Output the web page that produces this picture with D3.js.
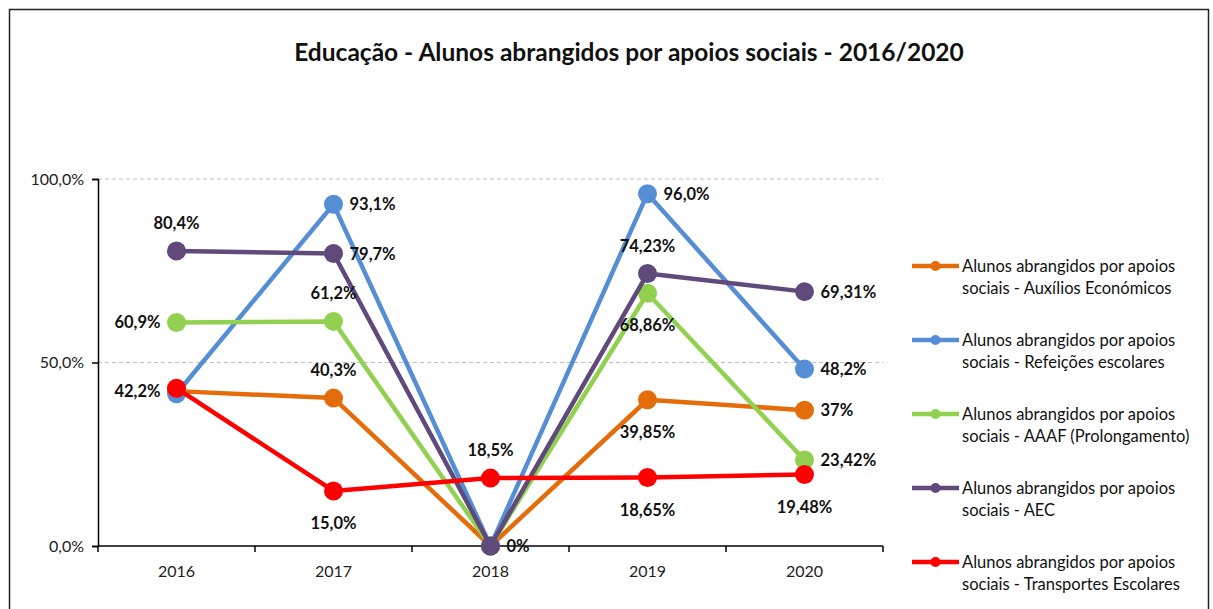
<!DOCTYPE html>
<html lang="pt">
<head>
    <meta charset="UTF-8">
    <script src="https://cdn.jsdelivr.net/npm/d3@7"></script>
    <title>Educação - Alunos abrangidos por apoios sociais</title>
    <style>
        html, body { margin: 0; padding: 0; background: #fff; }
        svg { display: block; font-family: Lato, "Open Sans", sans-serif; }
    </style>
</head>
<body>
<div id="chart"></div>
<script>
    // data
    const years = ['2016', '2017', '2018', '2019', '2020'];
    const seriesNames = [
        ['Alunos abrangidos por apoios', 'sociais - Auxílios Económicos'],
        ['Alunos abrangidos por apoios', 'sociais - Refeições escolares'],
        ['Alunos abrangidos por apoios', 'sociais - AAAF (Prolongamento)'],
        ['Alunos abrangidos por apoios', 'sociais - AEC'],
        ['Alunos abrangidos por apoios', 'sociais - Transportes Escolares']
    ];
    const colors = ['#e46c0a', '#558ed5', '#92d050', '#604a7b', '#ff0000'];
    const auxilios = [42.2, 40.3, 0, 39.85, 37];
    const refeicoes = [41.5, 93.1, 0, 96.0, 48.2];
    const aaaf = [60.9, 61.2, 0, 68.86, 23.42];
    const aec = [80.4, 79.7, 0, 74.23, 69.31];
    const transportes = [43.0, 15.0, 18.5, 18.65, 19.48];
    const values = [auxilios, refeicoes, aaaf, aec, transportes];
    // label texts and where they sit (l, r, t, b), null = no label
    const labelText = [
        ['42,2%', '40,3%', null, '39,85%', '37%'],
        [null, '93,1%', null, '96,0%', '48,2%'],
        ['60,9%', '61,2%', null, '68,86%', '23,42%'],
        ['80,4%', '79,7%', '0%', '74,23%', '69,31%'],
        [null, '15,0%', '18,5%', '18,65%', '19,48%']
    ];
    const labelPos = [
        ['l', 't', null, 'b', 'r'],
        [null, 'r', null, 'r', 'r'],
        ['l', 't', null, 'b', 'r'],
        ['t', 'r', 'r', 't', 'r'],
        [null, 'b', 't', 'b', 'b']
    ];
    const yTicks = [0, 50, 100];

    const width = 1213, height = 609;
    const plot = {left: 98, right: 883, top: 179, bottom: 546};

    const svg = d3.select('#chart').append('svg')
        .attr('width', width).attr('height', height);

    svg.append('rect')
        .attr('x', 9.5).attr('y', 9.5)
        .attr('width', 1199).attr('height', 640)
        .attr('fill', '#fff').attr('stroke', '#222').attr('stroke-width', 1.5);

    svg.append('text')
        .attr('x', 629).attr('y', 61)
        .attr('text-anchor', 'middle')
        .attr('font-size', 24.5).attr('font-weight', 'bold')
        .attr('fill', '#111')
        .text('Educação - Alunos abrangidos por apoios sociais - 2016/2020');

    const x = d3.scalePoint().domain(years)
        .range([plot.left, plot.right]).padding(0.5);
    const y = d3.scaleLinear().domain([0, 100]).range([plot.bottom, plot.top]);
    const step = x.step();

    // gridlines
    svg.append('g').selectAll('line')
        .data(yTicks.filter(d => d > 0))
        .join('line')
        .attr('x1', plot.left).attr('x2', plot.right)
        .attr('y1', d => y(d)).attr('y2', d => y(d))
        .attr('stroke', '#bfbfbf').attr('stroke-dasharray', '4,3');

    // y axis
    const yAxis = svg.append('g')
        .attr('transform', `translate(${plot.left},0)`)
        .call(d3.axisLeft(y).tickValues(yTicks).tickSize(6)
            .tickFormat(d => d3.format('.1f')(d).replace('.', ',') + '%'));
    yAxis.select('.domain').attr('stroke', '#000').attr('stroke-width', 1.5);
    yAxis.selectAll('.tick line').attr('stroke', '#000').attr('stroke-width', 1.5);
    yAxis.selectAll('.tick text').attr('font-size', 16).attr('fill', '#222')
        .attr('font-family', 'Lato, sans-serif').attr('x', -14);

    // x axis
    const xg = svg.append('g').attr('transform', `translate(0,${plot.bottom})`);
    xg.append('line').attr('x1', plot.left).attr('x2', plot.right)
        .attr('stroke', '#000').attr('stroke-width', 1.5);
    xg.selectAll('.xt').data(d3.range(years.length + 1)).join('line')
        .attr('x1', i => plot.left + i * step).attr('x2', i => plot.left + i * step)
        .attr('y1', 0).attr('y2', 6)
        .attr('stroke', '#000').attr('stroke-width', 1.5);
    xg.selectAll('text').data(years).join('text')
        .attr('x', d => x(d)).attr('y', 31)
        .attr('text-anchor', 'middle')
        .attr('font-size', 16).attr('fill', '#222')
        .text(d => d);

    const line = d3.line().x((d, i) => x(years[i])).y(d => y(d));

    // series lines and markers
    values.forEach((vals, s) => {
        const g = svg.append('g');
        g.append('path').datum(vals)
            .attr('d', line)
            .attr('fill', 'none')
            .attr('stroke', colors[s]).attr('stroke-width', 4.5)
            .attr('stroke-linejoin', 'round');
        g.selectAll('circle').data(vals).join('circle')
            .attr('cx', (d, i) => x(years[i])).attr('cy', d => y(d))
            .attr('r', 9.5)
            .attr('fill', colors[s]);
    });

    // data labels
    const lab = svg.append('g')
        .attr('font-size', 16.5).attr('font-weight', 'bold').attr('fill', '#111');
    values.forEach((vals, s) => {
        vals.forEach((v, i) => {
            const t = labelText[s][i];
            if (!t) return;
            const p = labelPos[s][i];
            let lx = x(years[i]), ly = y(v) + 6, anchor = 'middle';
            if (p === 'r') { lx += 16; anchor = 'start'; }
            if (p === 'l') { lx -= 16; anchor = 'end'; }
            if (p === 't') { ly -= 28; }
            if (p === 'b') { ly += 32; }
            lab.append('text')
                .attr('x', lx).attr('y', ly)
                .attr('text-anchor', anchor)
                .text(t);
        });
    });

    // legend
    const legend = svg.append('g').attr('transform', 'translate(912,266)');
    seriesNames.forEach((name, s) => {
        const g = legend.append('g').attr('transform', `translate(0,${s * 74})`);
        g.append('line').attr('x1', 0).attr('x2', 47).attr('y1', 0).attr('y2', 0)
            .attr('stroke', colors[s]).attr('stroke-width', 4.5);
        g.append('circle').attr('cx', 23.5).attr('cy', 0).attr('r', 5)
            .attr('fill', colors[s]);
        g.selectAll('text').data(name).join('text')
            .attr('x', 50).attr('y', (d, j) => 6 + j * 22)
            .attr('font-size', 16.5).attr('fill', '#111')
            .text(d => d);
    });
</script>
</body>
</html>
